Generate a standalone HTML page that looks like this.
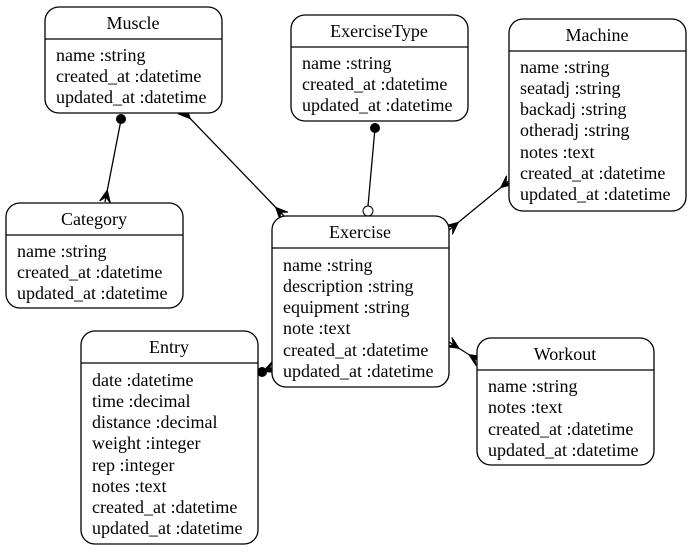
<!DOCTYPE html>
<html><head><meta charset="utf-8"><style>
html,body{margin:0;padding:0;background:#fff;}
svg text{font-family:"Liberation Serif",serif;font-size:18px;fill:#000;}
</style></head><body>
<svg width="692" height="552" viewBox="0 0 692 552" xmlns="http://www.w3.org/2000/svg">
<defs>
<marker id="crow" markerWidth="14" markerHeight="14" refX="12" refY="6" orient="auto-start-reverse" markerUnits="userSpaceOnUse" viewBox="0 0 14 12">
<path d="M0,6 L12,0.5 L7,6 L12,11.5 Z M0,6 L12,6" fill="#000" stroke="#000" stroke-width="1"/>
</marker>
</defs>
<g fill="none" stroke="#000" stroke-width="1.3">
<line x1="121" y1="120" x2="105" y2="202" marker-end="url(#crow)"/>
<line x1="182" y1="110" x2="284" y2="216" marker-start="url(#crow)" marker-end="url(#crow)"/>
<line x1="375" y1="128" x2="368" y2="206"/>
<line x1="510" y1="180" x2="449" y2="230" marker-start="url(#crow)" marker-end="url(#crow)"/>
<line x1="262" y1="372" x2="274" y2="367" marker-end="url(#crow)"/>
<line x1="449" y1="342" x2="479" y2="361" marker-start="url(#crow)" marker-end="url(#crow)"/>
</g>
<circle cx="121" cy="119" r="5" fill="#000"/>
<circle cx="375" cy="128" r="5" fill="#000"/>
<circle cx="368" cy="211" r="5" fill="#fff" stroke="#000" stroke-width="1"/>
<circle cx="262" cy="372" r="5" fill="#000"/>
<g fill="#fff" stroke="#000" stroke-width="1.3">
<rect x="45" y="7" width="177" height="106" rx="14"/>
<rect x="291" y="15" width="177" height="106" rx="14"/>
<rect x="509" y="19" width="177" height="192" rx="14"/>
<rect x="6" y="203" width="177" height="105" rx="14"/>
<rect x="272" y="216" width="177" height="171" rx="14"/>
<rect x="81" y="331" width="177" height="213" rx="14"/>
<rect x="477" y="338" width="177" height="127" rx="14"/>
</g>
<g stroke="#000" stroke-width="1.3">
<line x1="45" y1="39" x2="222" y2="39"/>
<line x1="291" y1="47" x2="468" y2="47"/>
<line x1="509" y1="51" x2="686" y2="51"/>
<line x1="6" y1="235" x2="183" y2="235"/>
<line x1="272" y1="248" x2="449" y2="248"/>
<line x1="81" y1="363" x2="258" y2="363"/>
<line x1="477" y1="370" x2="654" y2="370"/>
</g>
<g text-anchor="middle">
<text x="133" y="29">Muscle</text>
<text x="379" y="37">ExerciseType</text>
<text x="597" y="41">Machine</text>
<text x="94" y="225">Category</text>
<text x="360" y="238">Exercise</text>
<text x="169" y="353">Entry</text>
<text x="565" y="360">Workout</text>
</g>
<text x="56" y="61">name :string</text>
<text x="56" y="82">created_at :datetime</text>
<text x="56" y="103">updated_at :datetime</text>
<text x="302" y="69">name :string</text>
<text x="302" y="90">created_at :datetime</text>
<text x="302" y="111">updated_at :datetime</text>
<text x="520" y="73">name :string</text>
<text x="520" y="94">seatadj :string</text>
<text x="520" y="115">backadj :string</text>
<text x="520" y="136">otheradj :string</text>
<text x="520" y="158">notes :text</text>
<text x="520" y="179">created_at :datetime</text>
<text x="520" y="200">updated_at :datetime</text>
<text x="17" y="257">name :string</text>
<text x="17" y="278">created_at :datetime</text>
<text x="17" y="299">updated_at :datetime</text>
<text x="283" y="271">name :string</text>
<text x="283" y="292">description :string</text>
<text x="283" y="313">equipment :string</text>
<text x="283" y="334">note :text</text>
<text x="283" y="356">created_at :datetime</text>
<text x="283" y="377">updated_at :datetime</text>
<text x="92" y="386">date :datetime</text>
<text x="92" y="407">time :decimal</text>
<text x="92" y="428">distance :decimal</text>
<text x="92" y="449">weight :integer</text>
<text x="92" y="471">rep :integer</text>
<text x="92" y="492">notes :text</text>
<text x="92" y="513">created_at :datetime</text>
<text x="92" y="534">updated_at :datetime</text>
<text x="488" y="392">name :string</text>
<text x="488" y="413">notes :text</text>
<text x="488" y="435">created_at :datetime</text>
<text x="488" y="456">updated_at :datetime</text>
</svg>
</body></html>
